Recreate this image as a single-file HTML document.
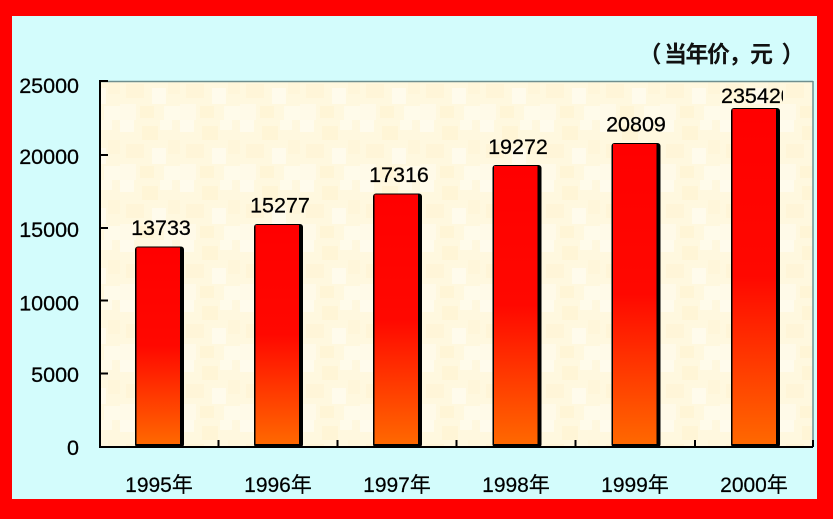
<!DOCTYPE html>
<html>
<head>
<meta charset="utf-8">
<style>
  html,body{margin:0;padding:0;background:#ff0000;}
  body{width:833px;height:519px;overflow:hidden;}
  svg{display:block;}
  .num{font-family:"Liberation Sans","Noto Sans CJK SC",sans-serif;font-size:21.5px;fill:#000;stroke:#000;stroke-width:0.25;}
  .xl{font-family:"Liberation Sans","Noto Sans CJK SC",sans-serif;font-size:21px;fill:#000;stroke:#000;stroke-width:0.2;}
  .tt{font-family:"Liberation Sans","Noto Sans CJK SC",sans-serif;font-size:23px;font-weight:bold;fill:#111;}
</style>
</head>
<body>
<svg width="833" height="519" viewBox="0 0 833 519" xmlns="http://www.w3.org/2000/svg">
  <defs>
    <linearGradient id="barg" x1="0" y1="0" x2="0" y2="1">
      <stop offset="0" stop-color="#ff0000"/>
      <stop offset="0.5" stop-color="#ff0800"/>
      <stop offset="0.75" stop-color="#ff3800"/>
      <stop offset="1" stop-color="#ff6800"/>
    </linearGradient>
    <pattern id="mottle" width="60" height="60" patternUnits="userSpaceOnUse">
      <rect width="60" height="60" fill="#fff8df"/>
      <rect x="0" y="0" width="14" height="12" fill="#fffbec"/>
      <rect x="22" y="6" width="16" height="14" fill="#fff5d6"/>
      <rect x="40" y="0" width="12" height="10" fill="#fffbea"/>
      <rect x="6" y="24" width="18" height="14" fill="#fff5d8"/>
      <rect x="32" y="28" width="14" height="16" fill="#fffbec"/>
      <rect x="48" y="20" width="12" height="14" fill="#fff6da"/>
      <rect x="0" y="44" width="16" height="16" fill="#fffae8"/>
      <rect x="20" y="46" width="14" height="12" fill="#fff5d6"/>
      <rect x="44" y="46" width="16" height="14" fill="#fffbea"/>
    </pattern>
    <clipPath id="clip2000"><rect x="700" y="70" width="83" height="40"/></clipPath>
  </defs>

  <!-- red frame & cyan panel -->
  <rect x="0" y="0" width="833" height="519" fill="#ff0000"/>
  <rect x="12" y="16" width="805" height="483" fill="#d3fcfc"/>

  <!-- plot area -->
  <rect x="100" y="81" width="713" height="366" fill="url(#mottle)"/>
  <line x1="100" y1="81.5" x2="813" y2="81.5" stroke="#6f8f8f" stroke-width="1.5"/>
  <line x1="813" y1="81" x2="813" y2="447" stroke="#6f8f8f" stroke-width="1.5"/>

  <!-- title -->
  <text class="tt" x="650" y="62" text-anchor="middle">（</text>
  <text class="tt" x="675.5" y="62" text-anchor="middle">当</text>
  <text class="tt" x="697" y="62" text-anchor="middle">年</text>
  <text class="tt" x="718.5" y="62" text-anchor="middle">价</text>
  <text class="tt" x="740" y="62" text-anchor="middle">，</text>
  <text class="tt" x="761.5" y="62" text-anchor="middle">元</text>
  <text class="tt" x="793" y="62" text-anchor="middle">）</text>

  <!-- y axis labels -->
  <text class="num" x="79" y="93" text-anchor="end">25000</text>
  <text class="num" x="79" y="164" text-anchor="end">20000</text>
  <text class="num" x="79" y="237" text-anchor="end">15000</text>
  <text class="num" x="79" y="310.5" text-anchor="end">10000</text>
  <text class="num" x="79" y="382" text-anchor="end">5000</text>
  <text class="num" x="79" y="455" text-anchor="end">0</text>

  <!-- bars -->
  <rect x="135" y="246.5" width="49" height="201" rx="3" fill="#000"/>
  <rect x="136.5" y="247.5" width="43.5" height="196.5" fill="url(#barg)"/>
  <rect x="254" y="224" width="49" height="223.5" rx="3" fill="#000"/>
  <rect x="255.5" y="225" width="43.5" height="219" fill="url(#barg)"/>
  <rect x="373" y="193.5" width="49" height="254" rx="3" fill="#000"/>
  <rect x="374.5" y="194.5" width="43.5" height="249.5" fill="url(#barg)"/>
  <rect x="492.5" y="165" width="49" height="282.5" rx="3" fill="#000"/>
  <rect x="494" y="166" width="43.5" height="278" fill="url(#barg)"/>
  <rect x="611.5" y="143" width="49" height="304.5" rx="3" fill="#000"/>
  <rect x="613" y="144" width="43.5" height="300" fill="url(#barg)"/>
  <rect x="731" y="108" width="49" height="339.5" rx="3" fill="#000"/>
  <rect x="732.5" y="109" width="43.5" height="335" fill="url(#barg)"/>

  <!-- value labels -->
  <text class="num" x="161" y="235" text-anchor="middle">13733</text>
  <text class="num" x="280" y="212.5" text-anchor="middle">15277</text>
  <text class="num" x="399" y="182" text-anchor="middle">17316</text>
  <text class="num" x="518" y="154" text-anchor="middle">19272</text>
  <text class="num" x="636" y="131.5" text-anchor="middle">20809</text>
  <text class="num" x="721" y="103" clip-path="url(#clip2000)">235420</text>

  <!-- axes -->
  <line x1="100" y1="80" x2="100" y2="448" stroke="#000" stroke-width="2"/>
  <line x1="99" y1="447" x2="813" y2="447" stroke="#000" stroke-width="2"/>
  <g stroke="#000" stroke-width="2">
    <line x1="100" y1="81" x2="108" y2="81"/>
    <line x1="100" y1="155" x2="108" y2="155"/>
    <line x1="100" y1="228" x2="108" y2="228"/>
    <line x1="100" y1="300.5" x2="108" y2="300.5"/>
    <line x1="100" y1="373.5" x2="108" y2="373.5"/>
    <line x1="218.5" y1="447" x2="218.5" y2="440"/>
    <line x1="337.5" y1="447" x2="337.5" y2="440"/>
    <line x1="456.5" y1="447" x2="456.5" y2="440"/>
    <line x1="575.5" y1="447" x2="575.5" y2="440"/>
    <line x1="695" y1="447" x2="695" y2="440"/>
    <line x1="813" y1="447" x2="813" y2="440"/>
  </g>

  <!-- x labels -->
  <text class="xl" x="159" y="492" text-anchor="middle">1995年</text>
  <text class="xl" x="278" y="492" text-anchor="middle">1996年</text>
  <text class="xl" x="397" y="492" text-anchor="middle">1997年</text>
  <text class="xl" x="516" y="492" text-anchor="middle">1998年</text>
  <text class="xl" x="635" y="492" text-anchor="middle">1999年</text>
  <text class="xl" x="754" y="492" text-anchor="middle">2000年</text>
</svg>
</body>
</html>
